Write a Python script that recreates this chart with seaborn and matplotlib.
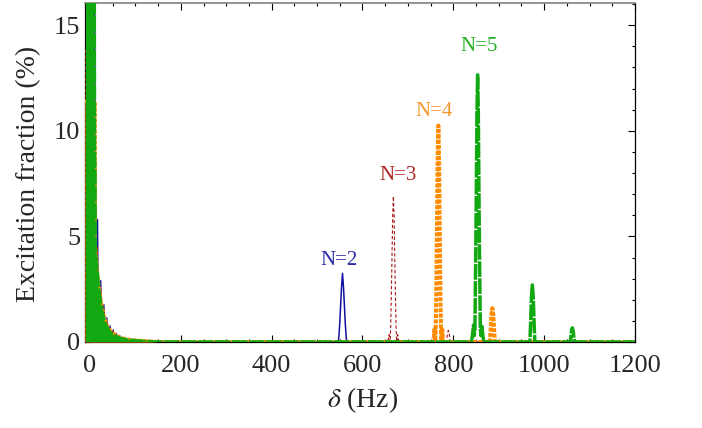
import numpy as np
import pandas as pd
import matplotlib
matplotlib.use("Agg")
import matplotlib.pyplot as plt
import seaborn as sns
from matplotlib.ticker import MultipleLocator

# ---------------- data ----------------
# near-resonant (delta ~ 0) part: oscillation peaks of N=2 / N=3
lf_spike_hz = [16.5, 23.5, 30.5, 37, 44, 51, 58, 65, 72, 79, 86, 93, 100, 107, 114, 121]
n2_lf_spike = [5.8, 2.9, 1.76, 1.14, 0.76, 0.57, 0.40, 0.30, 0.22, 0.17, 0.13, 0.10, 0.08, 0.06, 0.05, 0.04]
n3_lf_spike = [4.5, 2.55, 1.55, 1.0, 0.68, 0.50, 0.36, 0.27, 0.20, 0.15, 0.12, 0.09, 0.07, 0.05, 0.04, 0.03]
# central (off-scale) core of N=2 and N=3
n2_core_hz = [-9, -9, 10.5, 10.5]
n2_core_val = [0, 30, 30, 0]
n3_core_hz = [-10, -10, 10, 10]
n3_core_val = [0, 13.8, 13.8, 0]
# envelopes of the dense N=4 / N=5 oscillations
n5_env_hz = [-9, 9, 9.5, 10, 11, 11.5, 13, 16, 19, 23, 26, 30, 33, 37, 40, 44, 50, 57, 64, 72, 80, 90, 100, 110, 130, 150]
n5_env_val = [30, 30, 16, 9.0, 8.2, 4.6, 3.9, 3.3, 2.5, 1.9, 1.45, 1.15, 0.88, 0.72, 0.56, 0.46, 0.35, 0.26, 0.19, 0.14, 0.10, 0.08, 0.06, 0.04, 0.02, 0.0]
n4_env_hz = [-11, 10.5, 11, 14, 17, 20, 24, 28, 32, 36, 40, 45, 50, 57, 64, 72, 80, 90, 100, 120, 150]
n4_env_val = [11.4, 11.4, 4.5, 3.8, 3.0, 2.5, 1.9, 1.45, 1.1, 0.85, 0.66, 0.52, 0.42, 0.31, 0.23, 0.17, 0.13, 0.09, 0.07, 0.04, 0.0]

# resonances at larger detuning
n2_hf_hz = [546.5, 548, 550, 552, 554, 556, 558, 560, 562, 564, 565.5]
n2_hf_val = [0, 0.25, 0.9, 1.8, 2.65, 3.25, 2.65, 1.8, 0.9, 0.25, 0]
n3_hf_hz = [656, 658.5, 660, 661, 662, 663.5, 665, 666.5, 668, 669.5, 671, 672.5, 674, 675, 676, 677.5, 680,
            785, 787, 789, 791, 793]
n3_hf_val = [0, 0.35, 0, 0.1, 0.7, 2.2, 4.1, 6.0, 6.9, 6.0, 4.1, 2.2, 0.7, 0.1, 0, 0.35, 0,
             0, 0.4, 0.55, 0.4, 0]
n4_hf_hz = [756, 758.5, 760, 761, 762.5, 764, 765.5, 767, 768.5, 770, 771.5, 773, 774, 775.5, 778,
            880.5, 882, 884, 886, 888, 890, 891.5]
n4_hf_val = [0, 0.6, 0.05, 0.4, 2.3, 5.5, 8.8, 10.25, 8.8, 5.5, 2.3, 0.4, 0.05, 0.6, 0,
             0, 0.5, 1.3, 1.6, 1.3, 0.5, 0]
n5_hf_hz = [840, 842.5, 844.5, 846, 847.5, 849, 850.5, 852, 853.5, 855, 856.5, 858, 859.5, 861, 862.5, 864.5, 867,
            968.5, 970, 972, 974, 976, 978, 979.5,
            1057, 1058, 1060, 1062, 1064, 1066, 1067]
n5_hf_val = [0, 0.4, 0.8, 0.3, 0.6, 3.4, 6.8, 10.9, 12.65, 10.9, 6.8, 3.4, 0.6, 0.3, 0.8, 0.4, 0,
             0, 0.8, 2.1, 2.7, 2.1, 0.8, 0,
             0, 0.1, 0.5, 0.67, 0.5, 0.1, 0]

labels = ["N=2", "N=3", "N=4", "N=5"]
label_hz = [549, 679, 758, 857]
label_val = [3.86, 7.87, 10.9, 14.0]

x_end = 1200

# ---------------- style ----------------
sns.set_theme(style="ticks")
plt.rcParams['font.family'] = ['Liberation Serif', 'DejaVu Serif']
plt.rcParams['mathtext.fontset'] = 'stix'
plt.rcParams['axes.edgecolor'] = 'black'

c_blue, c_red, c_orange, c_green = '#1010a0', '#a81818', '#ff8c00', '#12a812'
t_colors = ['#2a2aa8', '#b02424', '#f5962a', '#24b024']


def spikes(centers, heights, half=1.8):
    xs, ys = [], []
    for p, h in zip(centers, heights):
        xs += [p - half, p, p + half]
        ys += [0, h, 0]
    return xs, ys


def series(parts):
    xs, ys = [], []
    for px, py in parts:
        xs += list(px)
        ys += list(py)
    return pd.DataFrame({"hz": xs, "val": ys})


b_sx, b_sy = spikes(lf_spike_hz, n2_lf_spike)
r_sx, r_sy = spikes(lf_spike_hz, n3_lf_spike)

df2 = series([(n2_core_hz, n2_core_val), (b_sx, b_sy), (n2_hf_hz, n2_hf_val), ([x_end], [0])])
df3 = series([(n3_core_hz, n3_core_val), (r_sx, r_sy), (n3_hf_hz, n3_hf_val), ([x_end], [0])])
df4 = series([(n4_env_hz, n4_env_val), (n4_hf_hz, n4_hf_val), ([x_end], [0])])
df5 = series([(n5_env_hz, n5_env_val), (n5_hf_hz, n5_hf_val), ([x_end], [0])])

fig = plt.figure(figsize=(7.02, 4.28), dpi=100)
ax = fig.add_axes([85 / 702, 1 - 342 / 428, 550 / 702, 339 / 428])

sns.lineplot(data=df2, x="hz", y="val", ax=ax, color=c_blue, lw=1.1,
             estimator=None, sort=False, legend=False, zorder=2)
sns.lineplot(data=df3, x="hz", y="val", ax=ax, color=c_red, lw=0.8,
             estimator=None, sort=False, legend=False, zorder=3, linestyle=(0, (3, 2)))
ax.fill_between(n4_env_hz, 0, n4_env_val, color=c_orange, lw=0, zorder=3.5)
sns.lineplot(data=df4, x="hz", y="val", ax=ax, color=c_orange, lw=2.9,
             estimator=None, sort=False, legend=False, zorder=4,
             linestyle=(0, (1.0, 0.35)), dash_capstyle='butt')
ax.fill_between(n5_env_hz, 0, n5_env_val, color=c_green, lw=0, zorder=4.5)
sns.lineplot(data=df5, x="hz", y="val", ax=ax, color=c_green, lw=2.5,
             estimator=None, sort=False, legend=False, zorder=5,
             linestyle=(0, (4.5, 0.4)), dash_capstyle='butt')

for t, hx, hv, tc in zip(labels, label_hz, label_val, t_colors):
    ax.text(hx, hv, t, ha='center', va='center', fontsize=15, color=tc, zorder=6)

ax.set_xlim(-11, 1200)
ax.set_ylim(0, 16.05)
ax.xaxis.set_major_locator(MultipleLocator(200))
ax.xaxis.set_minor_locator(MultipleLocator(50))
ax.yaxis.set_major_locator(MultipleLocator(5))
ax.yaxis.set_minor_locator(MultipleLocator(1))
ax.tick_params(which='both', direction='in', top=True, right=True, color='black', width=0.8)
ax.tick_params(which='major', length=5)
ax.tick_params(which='minor', length=2.5)
ax.tick_params(axis='x', which='major', labelsize=19, pad=9.5)
ax.tick_params(axis='y', which='major', labelsize=19, pad=3.5)
for s in ['left', 'bottom', 'right']:
    ax.spines[s].set_linewidth(0.9)
    ax.spines[s].set_color('black')
ax.spines['top'].set_color('#808080')
ax.spines['top'].set_linewidth(1.2)

ax.set_xlabel(r"$\delta$ (Hz)", fontsize=20)
ax.set_ylabel("Excitation fraction (%)", fontsize=20)
ax.xaxis.set_label_coords(0.504, -0.127)
ax.yaxis.set_label_coords(-0.08, 0.497)

fig.savefig("out.png", dpi=100, facecolor='white')
